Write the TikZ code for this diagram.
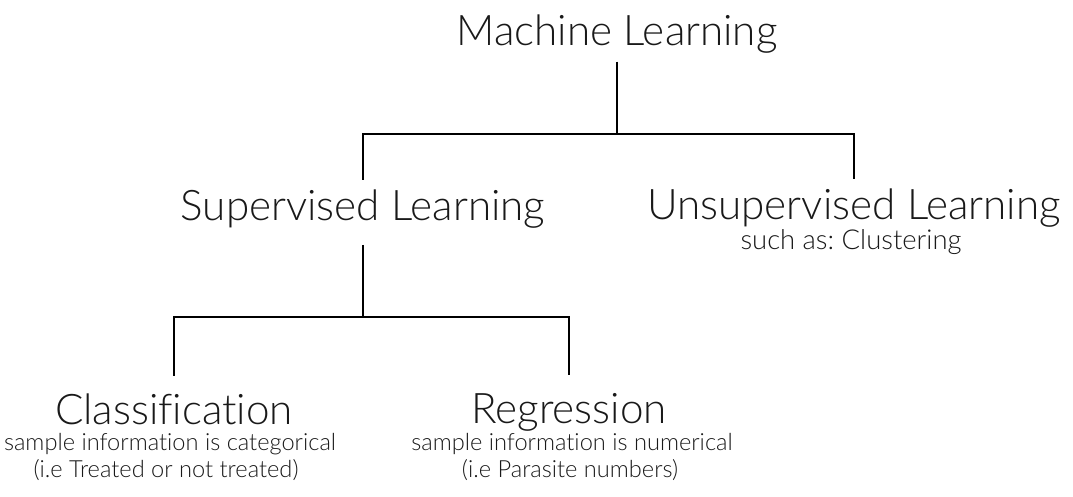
\documentclass[tikz,border=0pt]{standalone}
\usepackage{fontspec}
\setmainfont{Lato}[UprightFont=* Light, Ligatures=NoCommon]
\frenchspacing
\usetikzlibrary{positioning}

\begin{document}
\begin{tikzpicture}[x=0.025cm, y=-0.025cm,
    head/.style={font=\fontsize{30}{36}\selectfont, anchor=base, inner sep=0pt, text=black!90},
    note/.style={font=\fontsize{16.8}{20}\selectfont, anchor=base, inner sep=0pt, text=black!90},
    branch/.style={line width=2pt}]
    \useasboundingbox (0,0) rectangle (1073,496);
    \node [head](ml) at (617,45){Machine Learning};
    \node [head](sl) at (363,220){Supervised Learning};
    \node [head](ul) at (854,219){Unsupervised Learning};
    \node [note, font=\fontsize{19.5}{24}\selectfont](ulnote) at (851,249){such as: Clustering};
    \node [head](cl) at (174,424){Classification};
    \node [note](clnote) at (170,450){sample information is categorical};
    \node [note](clnote2) at (166,477){(i.e Treated or not treated)};
    \node [head](rg) at (569,423){Regression};
    \node [note](rgnote) at (572,450){sample information is numerical};
    \node [note](rgnote2) at (570,477){(i.e Parasite numbers)};
    \coordinate (mlfork) at (617,134);
    \coordinate (slfork) at (363,317);
    \draw [branch] ([yshift=-6pt]ml.south) -- (mlfork);
    \draw [branch] ([yshift=6.5pt]sl.north) |- (mlfork) -| ([yshift=6.5pt]ul.north);
    \draw [branch] ([yshift=-12pt]sl.south) -- (slfork);
    \draw [branch] ([yshift=12.4pt]cl.north) |- (slfork) -| ([yshift=12.4pt]rg.north);
\end{tikzpicture}
\end{document}
